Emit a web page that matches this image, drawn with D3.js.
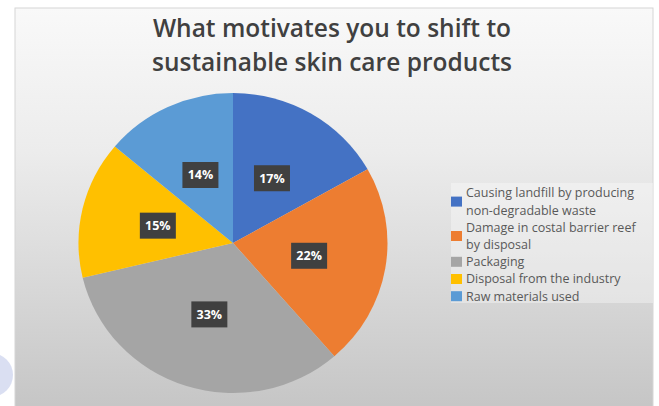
<!DOCTYPE html>
<html>
<head>
<meta charset="utf-8">
<script src="https://cdn.jsdelivr.net/npm/d3@7"></script>
<style>
  html, body { margin: 0; padding: 0; background: #ffffff; }
  svg { display: block; }
</style>
</head>
<body>
<svg id="chart" width="659" height="406"></svg>
<script>
// Survey answers: share of respondents per motivation
const categories = [
  "Causing landfill by producing non-degradable waste",
  "Damage in costal barrier reef by disposal",
  "Packaging",
  "Disposal from the industry",
  "Raw materials used"
];
const values = [17, 22, 33, 15, 14];
const valueLabels = ["17%", "22%", "33%", "15%", "14%"];
const legendLines = [
  ["Causing landfill by producing", "non-degradable waste"],
  ["Damage in costal barrier reef", "by disposal"],
  ["Packaging"],
  ["Disposal from the industry"],
  ["Raw materials used"]
];
const colors = ["#4472C4", "#ED7D31", "#A5A5A5", "#FFC000", "#5B9BD5"];
const titleLines = ["What motivates you to shift to", "sustainable skin care products"];

const svg = d3.select("#chart");
const defs = svg.append("defs");

// Chart panel background: pale at top, darker grey at the bottom
const grad = defs.append("linearGradient")
  .attr("id", "panelGrad").attr("x1", 0).attr("y1", 0).attr("x2", 0).attr("y2", 1);
grad.append("stop").attr("offset", "0%").attr("stop-color", "#f9f9f9");
grad.append("stop").attr("offset", "35%").attr("stop-color", "#ececec");
grad.append("stop").attr("offset", "100%").attr("stop-color", "#c4c4c4");

// small faded badge at the lower-left corner
svg.append("circle")
  .attr("cx", -9).attr("cy", 375).attr("r", 22)
  .attr("fill", "#d3d9f0").attr("opacity", 0.85);

svg.append("rect")
  .attr("x", 15).attr("y", 8).attr("width", 638).attr("height", 410)
  .attr("fill", "url(#panelGrad)")
  .attr("stroke", "#d6d6d6").attr("stroke-width", 1);

// Title
svg.append("g").selectAll("text")
  .data(titleLines)
  .join("text")
  .attr("x", 332)
  .attr("y", (d, i) => 37 + i * 34)
  .attr("text-anchor", "middle")
  .attr("font-family", "'Open Sans', sans-serif")
  .attr("font-weight", 600)
  .attr("font-size", 24.5)
  .attr("fill", "#404040")
  .text(d => d);

// Pie
const cx = 233, cy = 243, R = 150, sx = 1.03;
const pie = d3.pie().sort(null).value(d => d)(values);
const arc = d3.arc().innerRadius(0).outerRadius(R);

const pieG = svg.append("g")
  .attr("transform", `translate(${cx},${cy}) scale(${sx},1)`);
pieG.selectAll("path")
  .data(pie)
  .join("path")
  .attr("d", arc)
  .attr("fill", (d, i) => colors[i]);

// Data labels: dark boxes with white percentages at slice centroids
const labG = svg.append("g");
const lab = labG.selectAll("g")
  .data(pie)
  .join("g")
  .attr("transform", d => {
    const [x, y] = arc.centroid(d);
    return `translate(${cx + x * sx},${cy + y})`;
  });
lab.append("rect")
  .attr("x", -18).attr("y", -13).attr("width", 36).attr("height", 26)
  .attr("fill", "#404040");
lab.append("text")
  .attr("text-anchor", "middle")
  .attr("dy", "0.35em")
  .attr("font-family", "'Open Sans', sans-serif")
  .attr("font-weight", 700)
  .attr("font-size", 12.5)
  .attr("fill", "#ffffff")
  .text((d, i) => valueLabels[i]);

// Legend
const legX = 451, legTop = 183;
svg.append("rect")
  .attr("x", legX).attr("y", legTop).attr("width", 202).attr("height", 120)
  .attr("fill", "#ffffff").attr("opacity", 0.35);

const lineH = 17.2;
let row = 0;
const legG = svg.append("g");
legendLines.forEach((lines, i) => {
  const firstY = legTop + 10 + row * lineH;
  const midY = firstY + (lines.length - 1) * lineH / 2;
  legG.append("rect")
    .attr("x", legX).attr("y", midY - 5).attr("width", 11).attr("height", 10)
    .attr("fill", colors[i]);
  lines.forEach((t, j) => {
    legG.append("text")
      .attr("x", legX + 15)
      .attr("y", firstY + j * lineH)
      .attr("dy", "0.35em")
      .attr("font-family", "'Open Sans', sans-serif")
      .attr("font-size", 12.5)
      .attr("fill", "#595959")
      .text(t);
  });
  row += lines.length;
});
</script>
</body>
</html>
